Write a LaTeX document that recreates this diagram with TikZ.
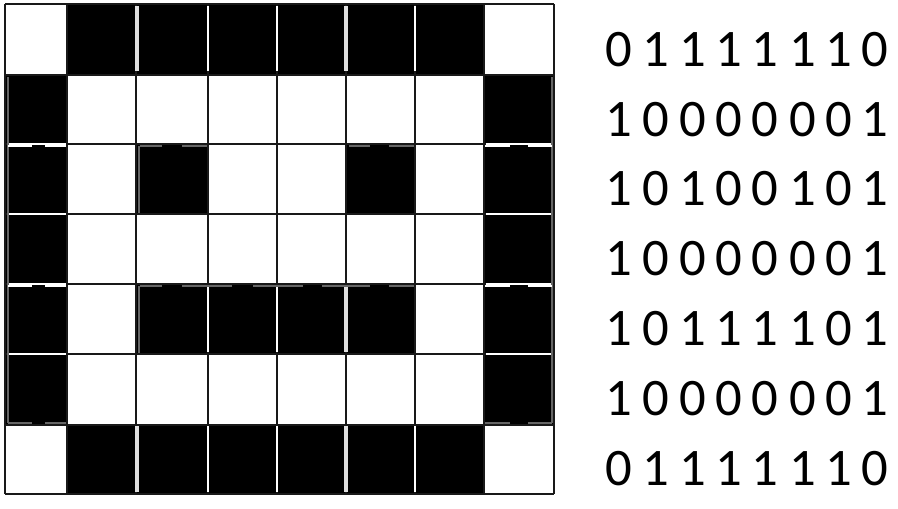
\documentclass[tikz,border=0pt]{standalone}
\usepackage{fontspec}
\setmainfont{Carlito}
\tikzset{
  bitlabel/.style={font=\fontsize{30}{30}\selectfont, inner sep=0pt, anchor=center},
  gridline/.style={black!90, line width=2*0.02cm},
  seam/.style={white, line width=2*0.02cm},
  wideseam/.style={black!12, line width=4*0.02cm},
  faintseam/.style={black!60, line width=2*0.02cm}
}
\begin{document}
\begin{tikzpicture}[x=0.02cm, y=-0.02cm]
  \useasboundingbox (0,0) rectangle (898,509);
  \def\colxs{5,67,136,208,277,346,415,484,554}
  \def\rowys{4,75,144,214,284,354,425,494}

  % Black cells of the bitmap
  \foreach \xa/\xb/\ya/\yb in {67/484/4/75, 5/67/75/425, 484/554/75/425, 136/208/144/214, 346/415/144/214, 136/415/284/354, 67/484/425/494}
    \fill[black] (\xa,\ya) rectangle (\xb,\yb);

  % Grid
  \foreach \x in \colxs
    \draw[gridline] (\x,4) -- (\x,494);
  \foreach \y in \rowys
    \draw[gridline] (5,\y) -- (554,\y);

  % Seams inside the black runs
  \foreach \x in {208,277,415} {
    \draw[seam] (\x,6) -- (\x,71);
    \draw[seam] (\x,426) -- (\x,492);
  }
  \foreach \x in {137,346} {
    \draw[wideseam] (\x,6) -- (\x,71);
    \draw[wideseam] (\x,426) -- (\x,492);
  }
  \foreach \y in {144,214,284,354} {
    \draw[seam] (8,\y) -- (66,\y);
    \draw[seam] (486,\y) -- (552,\y);
  }
  \draw[seam] (208,287) -- (208,352);
  \draw[seam] (277,287) -- (277,352);
  \draw[wideseam] (346,287) -- (346,352);

  % Grey traces along the edges
  \foreach \x in {8,552}
    \draw[faintseam] (\x,77) -- (\x,423);
  \foreach \x in {139} {
    \draw[faintseam] (\x,146) -- (\x,213);
    \draw[faintseam] (\x,286) -- (\x,353);
  }
  \foreach \xa/\xb in {140/162, 182/207, 349/370, 389/414}
    \draw[faintseam] (\xa,146.5) -- (\xb,146.5);
  \foreach \xa/\xb in {140/162, 182/232, 253/303, 322/370, 389/414}
    \draw[faintseam] (\xa,286.5) -- (\xb,286.5);
  \foreach \xa/\xb in {8/32, 45/66, 485/510, 528/552} {
    \draw[seam] (\xa,146) -- (\xb,146);
    \draw[seam] (\xa,286) -- (\xb,286);
    \draw[faintseam] (\xa,423) -- (\xb,423);
  }

  % Bit rows
  \foreach \yy/\bits [count=\r] in {49.5/{0,1,1,1,1,1,1,0}, 119.5/{1,0,0,0,0,0,0,1}, 189/{1,0,1,0,0,1,0,1}, 259/{1,0,0,0,0,0,0,1}, 329/{1,0,1,1,1,1,0,1}, 399/{1,0,0,0,0,0,0,1}, 469/{0,1,1,1,1,1,1,0}} {
    \foreach \b [count=\c] in \bits {
      \pgfmathsetmacro{\xx}{{619,656,693,729,765,803,839,875}[\c-1]}
      \node[bitlabel] (bit\r\c) at (\xx,\yy) {\b};
    }
  }
\end{tikzpicture}
\end{document}
